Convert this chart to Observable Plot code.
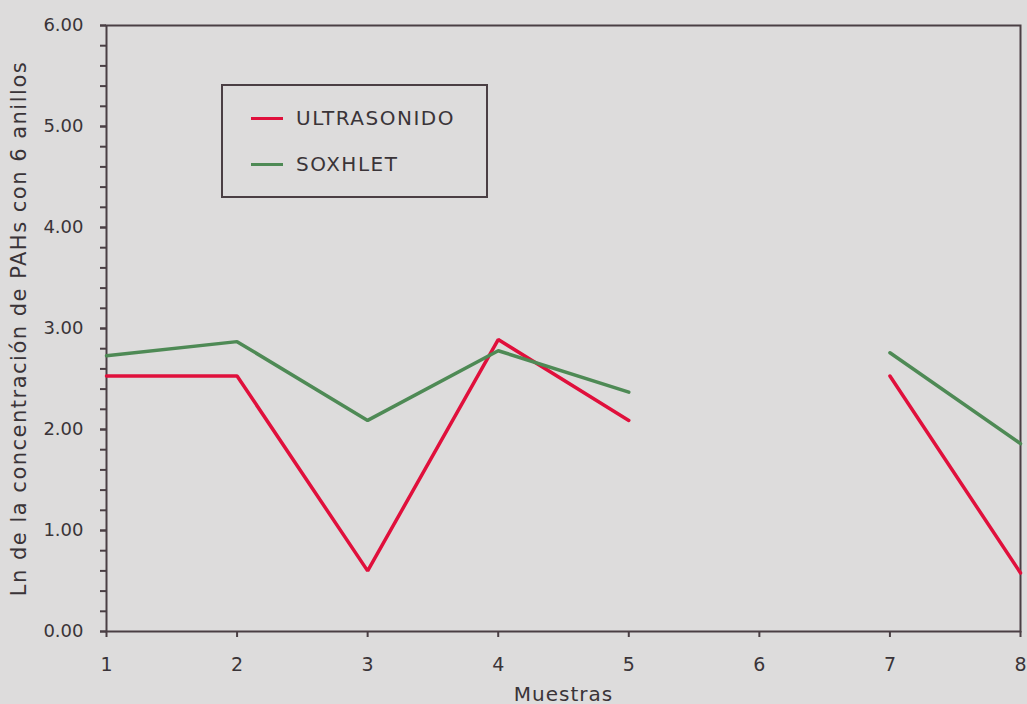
<!DOCTYPE html>
<html>
<head>
<meta charset="utf-8">
<script src="https://cdn.jsdelivr.net/npm/d3@7"></script>
<script src="https://cdn.jsdelivr.net/npm/@observablehq/plot@0.6"></script>
<style>
  html, body { margin: 0; padding: 0; background: #dddcdc; }
  #wrap { position: relative; width: 1027px; height: 704px; overflow: hidden; }
  #legend { position: absolute; left: 221px; top: 84px; width: 267px; height: 114px;
    border: 2px solid #4a3f44; box-sizing: border-box; font-family: "DejaVu Sans", sans-serif;
    font-size: 20px; letter-spacing: 1.5px; color: #3a3438; }
  .item { position: absolute; left: 28px; display: flex; align-items: center; }
  .sw { width: 32px; height: 3px; margin-right: 13px; }
</style>
</head>
<body>
<div id="wrap">
  <div id="chart"></div>
  <div id="legend"></div>
</div>
<script>
const muestras = [1, 2, 3, 4, 5, 6, 7, 8];
const ultrasonido = [2.53, 2.53, 0.60, 2.89, 2.09, null, 2.53, 0.58];
const soxhlet = [2.73, 2.87, 2.09, 2.78, 2.37, null, 2.76, 1.86];
const seriesNames = ["ULTRASONIDO", "SOXHLET"];
const seriesColors = ["#e0103c", "#4e8a55"];
const yMajorTicks = [0, 1, 2, 3, 4, 5, 6];
const yMinorTicks = d3.range(0, 31).map(i => i / 5);

const data = [];
muestras.forEach((m, i) => {
  data.push({muestra: m, valor: ultrasonido[i], serie: seriesNames[0]});
  data.push({muestra: m, valor: soxhlet[i], serie: seriesNames[1]});
});

const axisColor = "#4a3f44";
const chart = Plot.plot({
  width: 1027,
  height: 704,
  marginLeft: 106,
  marginRight: 7,
  marginTop: 25,
  marginBottom: 73,
  style: {background: "transparent", fontFamily: "DejaVu Sans, sans-serif", fontSize: "18px", color: "#3a3438"},
  x: {domain: [1, 8]},
  y: {domain: [0, 6]},
  color: {domain: seriesNames, range: seriesColors},
  marks: [
    Plot.frame({stroke: axisColor, strokeWidth: 2}),
    Plot.axisY(yMinorTicks, {tickSize: 6, tickFormat: () => "", stroke: axisColor, strokeWidth: 2, label: null}),
    Plot.axisY(yMajorTicks, {tickSize: 6, tickPadding: 17, tickFormat: d => d.toFixed(2), stroke: axisColor, strokeWidth: 2,
      fill: "#3a3438", label: "Ln de la concentración de PAHs con 6 anillos", labelAnchor: "center", labelOffset: 95, labelArrow: "none"}),
    Plot.axisX(muestras, {tickSize: 6, tickPadding: 20, tickFormat: d => String(d), stroke: axisColor, strokeWidth: 2,
      fill: "#3a3438", label: "Muestras", labelAnchor: "center", labelOffset: 69, labelArrow: "none"}),
    Plot.line(data, {x: "muestra", y: "valor", z: "serie", stroke: "serie", strokeWidth: 3.5, strokeLinejoin: "miter"})
  ]
});
document.getElementById("chart").appendChild(chart);
d3.select(chart).selectAll('g[aria-label="y-axis label"] text').style("font-size", "21px").style("letter-spacing", "1.5px");
d3.select(chart).selectAll('g[aria-label="x-axis label"] text').style("font-size", "20px").style("letter-spacing", "1px");
d3.select(chart).selectAll('g[aria-label="x-axis tick label"] text').style("font-size", "19px");

const legend = document.getElementById("legend");
seriesNames.forEach((name, i) => {
  const item = document.createElement("div");
  item.className = "item";
  item.style.top = (i === 0 ? 20 : 66) + "px";
  item.innerHTML = `<span class="sw" style="background:${seriesColors[i]}"></span><span>${name}</span>`;
  legend.appendChild(item);
});
</script>
</body>
</html>
